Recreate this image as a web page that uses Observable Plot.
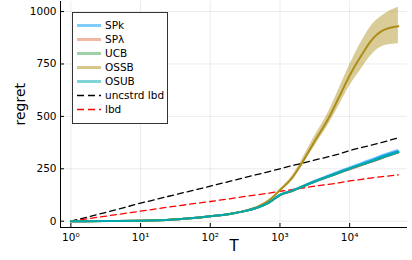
<!DOCTYPE html>
<html><head><meta charset="utf-8">
<script src="https://cdn.jsdelivr.net/npm/d3@7"></script>
<script src="https://cdn.jsdelivr.net/npm/@observablehq/plot@0.6"></script>
<style>body{margin:0;background:#fff}#c{position:relative;width:412px;height:260px}</style>
</head><body><div id="c"></div>
<script>
// Data
const T = [1,3,10,30,100,200,300,500,700,1000,1500,2000,3000,5000,7000,10000,15000,20000,30000,50000];
const SPk   = [0,0.5,2,8,24,36,47,68,90,125,146,163,188,216,234,252,273,288,310,334];
const SPk_lo= [0,0.5,2,8,23,35,46,67,88,122,143,160,184,211,229,246,266,281,302,326];
const SPk_hi= [0,0.5,2,8,25,37,48,69,92,128,149,166,192,221,239,258,280,295,318,342];
const SPl   = [0,0.5,2,8,24,36,47,68,89,124,144,161,185,212,230,248,268,282,303,327];
const UCB   = [0,0.5,2,8,24,36,47,68,90,125,145,162,186,213,231,250,270,284,305,329];
const OSSB  = [0,0.5,2,8,24,36,48,72,100,148,207,270,370,492,590,695,795,858,910,930];
const OSSB_lo=[0,0.5,2,8,23,35,47,70,97,143,197,255,347,462,550,645,730,788,835,846];
const OSSB_hi=[0,0.5,2,8,25,37,49,74,103,153,217,285,393,522,630,745,860,928,982,1020];
const OSUB  = [0,0.5,2,8,24,36,47,68,90,125,145,162,186,213,231,250,270,284,305,329];
const uncstrdLbd = [0,40,86,125,167,192,207,225,237,250,265,275,290,308,320,337,352,362,377,398];
const lbd   = [0,23,48,71,94,108,117,127,134,143,151,157,166,176,183,192,200,206,213,221];
const names = ["SPk","SPλ","UCB","OSSB","OSUB","uncstrd lbd","lbd"];
const colors = ["#009AFA","#E36F47","#3EA44E","#AC8D18","#00A9AD","#000000","#FF0000"];
const xTicks = [1,10,100,1000,10000];
const yTicks = [0,250,500,750,1000];
const xDomain = [0.71, 67600];
const yDomain = [-30, 1048];

const series = [SPk, SPl, UCB, OSSB, OSUB];
const rows = [];
series.forEach((s,i)=>T.forEach((t,j)=>rows.push({T:t, v:s[j], k:names[i]})));
const band = (lo,hi)=>T.map((t,j)=>({T:t, lo:lo[j], hi:hi[j]}));
const lb = T.map((t,j)=>({T:t, u:uncstrdLbd[j], l:lbd[j]}));
const sup = n => String(n).split("").map(c=>"⁰¹²³⁴⁵⁶⁷⁸⁹"[+c]).join("");

const font = "DejaVu Sans, sans-serif";
const chart = Plot.plot({
  width: 412, height: 260,
  marginLeft: 60, marginRight: 5, marginTop: 1, marginBottom: 33,
  style: {fontFamily: font, background: "#fff"},
  x: {type: "log", domain: xDomain},
  y: {domain: yDomain},
  marks: [
    Plot.gridX(xTicks, {stroke: "#000", strokeOpacity: 0.1, strokeWidth: 0.8}),
    Plot.gridY(yTicks, {stroke: "#000", strokeOpacity: 0.1, strokeWidth: 0.8}),
    Plot.axisX({ticks: xTicks, tickSize: 0, tickPadding: 6, fontSize: 10.5, tickFormat: d => "10" + sup(Math.round(Math.log10(d))), label: null}),
    Plot.axisX({ticks: xTicks, tickSize: 4, dy: -4, tickFormat: () => "", label: null}),
    Plot.axisY({ticks: yTicks, tickSize: 0, tickPadding: 4, fontSize: 10.5, tickFormat: d3.format("d"), label: null}),
    Plot.axisY({ticks: yTicks, tickSize: 4, dx: 4, tickFormat: () => "", label: null}),
    Plot.areaY(band(SPk_lo,SPk_hi), {x: "T", y1: "lo", y2: "hi", fill: colors[0], fillOpacity: 0.6, curve: "monotone-x"}),
    Plot.areaY(band(OSSB_lo,OSSB_hi), {x: "T", y1: "lo", y2: "hi", fill: colors[3], fillOpacity: 0.45, curve: "monotone-x"}),
    Plot.line(lb, {x: "T", y: "u", stroke: "#000", strokeWidth: 1.3, strokeDasharray: "6,4"}),
    Plot.line(lb, {x: "T", y: "l", stroke: "#f00", strokeWidth: 1.3, strokeDasharray: "6,4"}),
    Plot.line(rows, {x: "T", y: "v", z: "k", stroke: "k", strokeWidth: 2, curve: "monotone-x"}),
    Plot.ruleX([xDomain[0]], {stroke: "#000", strokeWidth: 1}),
    Plot.ruleY([yDomain[0]], {stroke: "#000", strokeWidth: 1}),
    Plot.text(["regret"], {frameAnchor: "left", dx: -40, dy: 11, rotate: -90, fontSize: 14, fill: "#000"}),
    Plot.text(["T"], {frameAnchor: "bottom", dy: 23, fontSize: 15, fill: "#000"})
  ],
  color: {domain: names, range: colors}
});
document.getElementById("c").appendChild(chart);

// legend
const svg = d3.select(chart);
const g = svg.append("g").attr("font-family", font).attr("font-size", 10.5).attr("text-anchor", "start");
g.append("rect").attr("x", 72.5).attr("y", 12.5).attr("width", 95).attr("height", 111)
  .attr("fill", "#fff").attr("stroke", "#333").attr("stroke-width", 1);
names.forEach((n,i)=>{
  const y = 25.5 + i*14;
  const dashed = i >= 5;
  g.append("line").attr("x1", 77).attr("x2", 101).attr("y1", y).attr("y2", y)
    .attr("stroke", colors[i]).attr("stroke-width", dashed ? 1.3 : 3)
    .attr("stroke-opacity", dashed ? 1 : 0.5)
    .attr("stroke-dasharray", dashed ? "7,4" : null);
  g.append("text").attr("x", 105).attr("y", y).attr("dy", "0.35em").attr("text-anchor", "start").attr("fill", "#000").text(n);
});
</script></body></html>
